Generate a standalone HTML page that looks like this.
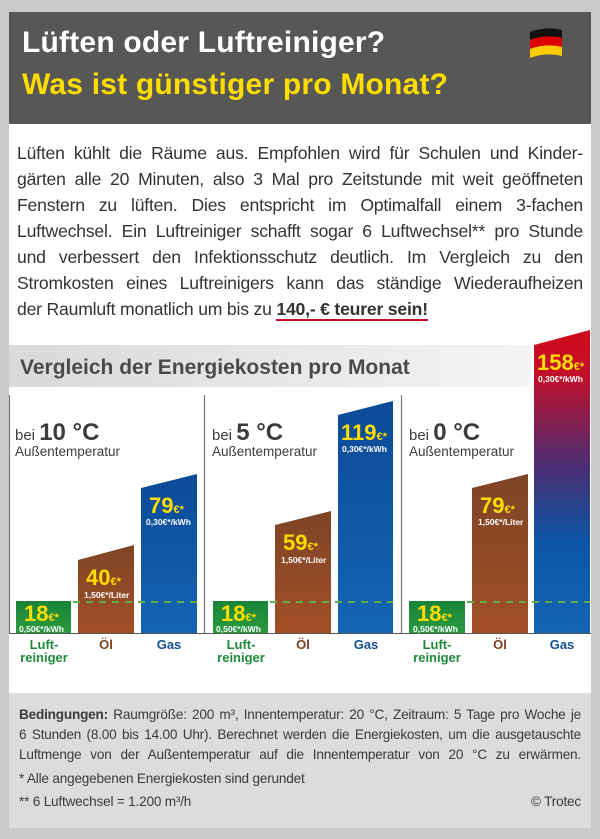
<!DOCTYPE html>
<html><head><meta charset="utf-8"><style>
*{margin:0;padding:0}
body{width:600px;height:839px;background:#c9cac9;position:relative;overflow:hidden;font-family:"Liberation Sans",sans-serif}
.hdr{position:absolute;left:9px;top:12px;width:582px;height:112px;background:#575756}
.t{position:absolute;left:22px;font-weight:bold;font-size:30px;white-space:nowrap;letter-spacing:0.2px}
.body{position:absolute;left:9px;top:124px;width:582px;height:569px;background:#fff}
.p{position:absolute;left:17px;width:566px;font-size:17.6px;color:#333;text-align:justify;text-align-last:justify;white-space:nowrap;letter-spacing:-0.2px}
.foot{position:absolute;left:9px;top:693px;width:582px;height:135px;background:#dbdcdb}
.f{position:absolute;left:19px;width:562px;font-size:13.6px;color:#3a3a3a;white-space:nowrap;letter-spacing:-0.2px}
</style></head><body>
<div class="hdr"></div>
<div class="t" style="top:26px;color:#fff">Lüften oder Luftreiniger?</div>
<div class="t" style="top:68px;color:#ffdd00">Was ist günstiger pro Monat?</div>
<svg style="position:absolute;left:528px;top:26px" width="36" height="36" viewBox="0 0 36 36">
<path d="M2 6 Q18 0 34 4 L34 12 Q18 8 2 14Z" fill="#111"/>
<path d="M2 14 Q18 8 34 12 L34 21 Q18 17 2 23Z" fill="#d00"/>
<path d="M2 23 Q18 17 34 21 L34 30 Q18 26 2 32Z" fill="#fc0"/>
</svg>
<div class="body"></div>
<div class="p" style="top:143px">Lüften kühlt die Räume aus. Empfohlen wird für Schulen und Kinder-</div>
<div class="p" style="top:169px">gärten alle 20 Minuten, also 3 Mal pro Zeitstunde mit weit geöffneten</div>
<div class="p" style="top:195px">Fenstern zu lüften. Dies entspricht im Optimalfall einem 3-fachen</div>
<div class="p" style="top:221px">Luftwechsel. Ein Luftreiniger schafft sogar 6 Luftwechsel** pro Stunde</div>
<div class="p" style="top:247px">und verbessert den Infektionsschutz deutlich. Im Vergleich zu den</div>
<div class="p" style="top:273px">Stromkosten eines Luftreinigers kann das ständige Wiederaufheizen</div>
<div class="p" style="top:299px;text-align-last:left">der Raumluft monatlich um bis zu <b style="border-bottom:2px solid #c8102e">140,- € teurer sein!</b></div>
<svg style="position:absolute;left:0;top:320px" width="600" height="373" viewBox="0 320 600 373">
<defs>
<linearGradient id="band" x1="0" x2="1"><stop offset="0" stop-color="#d9d9d9"/><stop offset="1" stop-color="#f4f4f4"/></linearGradient>
<linearGradient id="blue" x1="0" y1="0" x2="0" y2="1"><stop offset="0" stop-color="#0b4a96"/><stop offset="1" stop-color="#1565b4"/></linearGradient>
<linearGradient id="oil" x1="0" y1="0" x2="0" y2="1"><stop offset="0" stop-color="#7e4426"/><stop offset="1" stop-color="#a24f27"/></linearGradient>
<linearGradient id="green" x1="0" y1="0" x2="0" y2="1"><stop offset="0" stop-color="#18843a"/><stop offset="1" stop-color="#2a9a3c"/></linearGradient>
<linearGradient id="red" x1="0" y1="0" x2="0" y2="1"><stop offset="0" stop-color="#d10a1c"/><stop offset="0.15" stop-color="#c1102a"/><stop offset="0.45" stop-color="#4a2e74"/><stop offset="0.7" stop-color="#0d55a5"/><stop offset="1" stop-color="#1565b4"/></linearGradient>
</defs>
<rect x="9" y="345" width="520" height="42" fill="url(#band)"/>
<text x="20" y="374" font-size="21" font-weight="bold" fill="#4a4a4a">Vergleich der Energiekosten pro Monat</text>
<g stroke="#777" stroke-width="1.2"><line x1="9.5" y1="395" x2="9.5" y2="633"/><line x1="204.5" y1="395" x2="204.5" y2="633"/><line x1="401.5" y1="395" x2="401.5" y2="633"/></g>
<rect x="16" y="601" width="55" height="32" fill="url(#green)"/>
<path d="M78 560 L134 545 L134 633 L78 633Z" fill="url(#oil)"/>
<path d="M141 488 L197 474 L197 633 L141 633Z" fill="url(#blue)"/>
<rect x="213" y="601" width="55" height="32" fill="url(#green)"/>
<path d="M275 525 L331 511 L331 633 L275 633Z" fill="url(#oil)"/>
<path d="M338 415 L393 401 L393 633 L338 633Z" fill="url(#blue)"/>
<rect x="409" y="601" width="56" height="32" fill="url(#green)"/>
<path d="M472 488 L528 474 L528 633 L472 633Z" fill="url(#oil)"/>
<path d="M534 345 L590 330 L590 633 L534 633Z" fill="url(#red)"/>
<line x1="9" y1="633.5" x2="591" y2="633.5" stroke="#555" stroke-width="1"/>
<g stroke="#5fae45" stroke-width="2" stroke-dasharray="7 6"><line x1="73" y1="602" x2="197" y2="602"/><line x1="270" y1="602" x2="393" y2="602"/><line x1="467" y1="602" x2="590" y2="602"/></g>
<g fill="#3c3c3c">
<text x="15" y="440" font-size="15">bei <tspan font-size="24" font-weight="bold">10 °C</tspan></text>
<text x="15" y="456" font-size="13.5">Außentemperatur</text>
<text x="212" y="440" font-size="15">bei <tspan font-size="24" font-weight="bold">5 °C</tspan></text>
<text x="212" y="456" font-size="13.5">Außentemperatur</text>
<text x="409" y="440" font-size="15">bei <tspan font-size="24" font-weight="bold">0 °C</tspan></text>
<text x="409" y="456" font-size="13.5">Außentemperatur</text>
</g>
<g font-weight="bold" fill="#ffdd00">
<text x="24" y="621" font-size="22">18<tspan font-size="11">€*</tspan></text>
<text x="86" y="585" font-size="22">40<tspan font-size="11">€*</tspan></text>
<text x="149" y="513" font-size="22">79<tspan font-size="11">€*</tspan></text>
<text x="221" y="621" font-size="22">18<tspan font-size="11">€*</tspan></text>
<text x="283" y="550" font-size="22">59<tspan font-size="11">€*</tspan></text>
<text x="341" y="440" font-size="22">119<tspan font-size="11">€*</tspan></text>
<text x="417" y="621" font-size="22">18<tspan font-size="11">€*</tspan></text>
<text x="480" y="513" font-size="22">79<tspan font-size="11">€*</tspan></text>
<text x="537" y="370" font-size="22">158<tspan font-size="11">€*</tspan></text>
</g>
<g fill="#fff" font-size="8.5" font-weight="bold">
<text x="19" y="632">0,50€*/kWh</text>
<text x="84" y="598">1,50€*/Liter</text>
<text x="146" y="525">0,30€*/kWh</text>
<text x="216" y="632">0,50€*/kWh</text>
<text x="281" y="563">1,50€*/Liter</text>
<text x="342" y="452">0,30€*/kWh</text>
<text x="413" y="632">0,50€*/kWh</text>
<text x="478" y="525">1,50€*/Liter</text>
<text x="538" y="382">0,30€*/kWh</text>
</g>
<g font-size="13" font-weight="bold" text-anchor="middle">
<text x="44" y="649" fill="#1e8a3a">Luft-</text><text x="44" y="662" fill="#1e8a3a">reiniger</text>
<text x="106" y="649" fill="#7a3f22">Öl</text><text x="169" y="649" fill="#134f95">Gas</text>
<text x="241" y="649" fill="#1e8a3a">Luft-</text><text x="241" y="662" fill="#1e8a3a">reiniger</text>
<text x="303" y="649" fill="#7a3f22">Öl</text><text x="366" y="649" fill="#134f95">Gas</text>
<text x="437" y="649" fill="#1e8a3a">Luft-</text><text x="437" y="662" fill="#1e8a3a">reiniger</text>
<text x="500" y="649" fill="#7a3f22">Öl</text><text x="562" y="649" fill="#134f95">Gas</text>
</g>
</svg>
<div class="foot"></div>
<div class="f" style="top:707px;text-align:justify;text-align-last:justify"><b>Bedingungen:</b> Raumgröße: 200 m³, Innentemperatur: 20 °C, Zeitraum: 5 Tage pro Woche je</div>
<div class="f" style="top:727px;text-align:justify;text-align-last:justify">6 Stunden (8.00 bis 14.00 Uhr). Berechnet werden die Energiekosten, um die ausgetauschte</div>
<div class="f" style="top:747px;text-align:justify;text-align-last:justify">Luftmenge von der Außentemperatur auf die Innentemperatur von 20 °C zu erwärmen.</div>
<div class="f" style="top:771px">* Alle angegebenen Energiekosten sind gerundet</div>
<div class="f" style="top:794px">** 6 Luftwechsel = 1.200 m³/h</div>
<div class="f" style="top:794px;text-align:right">© Trotec</div>
</body></html>
